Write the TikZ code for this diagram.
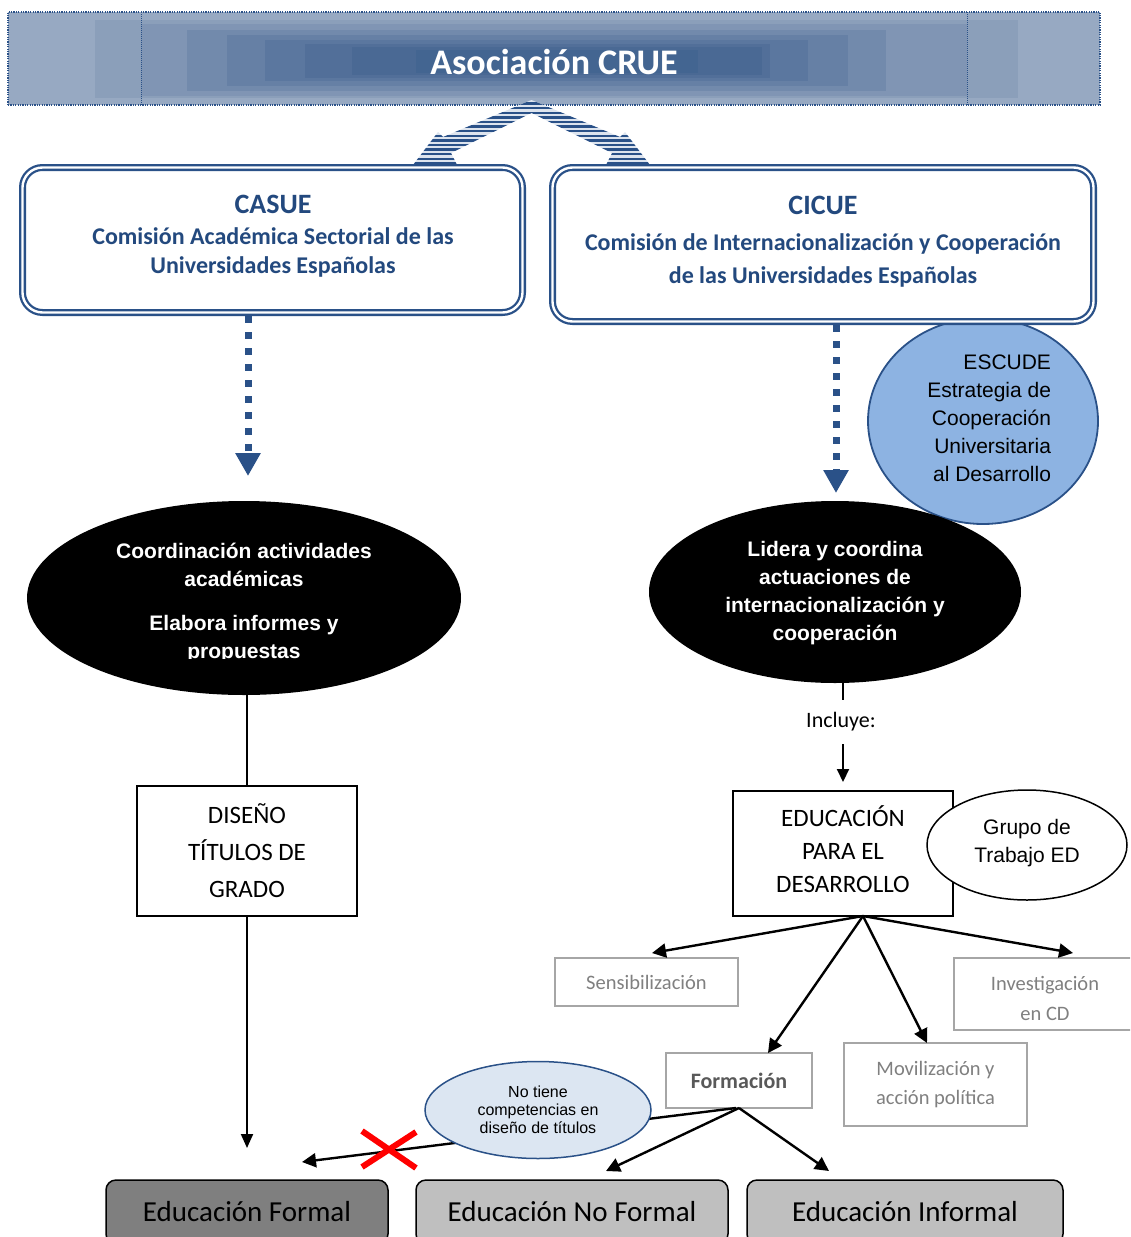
\documentclass[tikz,border=0pt]{standalone}
\usepackage{fontspec}
\setmainfont{Carlito}
\newfontfamily\arialf{Liberation Sans}
\usetikzlibrary{arrows.meta,shapes.geometric,calc}

\definecolor{lineblue}{HTML}{2A5188}
\definecolor{txtblue}{HTML}{23497E}
\definecolor{stripebg}{HTML}{DDE4EE}
\definecolor{escfill}{HTML}{8DB3E2}
\definecolor{notfill}{HTML}{DCE6F2}
\definecolor{boxgray}{HTML}{A6A6A6}
\definecolor{txtgray}{HTML}{808080}
\definecolor{formgray}{HTML}{595959}
\definecolor{darkfill}{HTML}{7F7F7F}
\definecolor{lightfill}{HTML}{BFBFBF}
% banner layers, light outside to dark centre
\definecolor{bA}{HTML}{97A9C2}
\definecolor{bB}{HTML}{8B9FBA}
\definecolor{bC}{HTML}{8095B4}
\definecolor{bD}{HTML}{728AAC}
\definecolor{bE}{HTML}{6680A5}
\definecolor{bF}{HTML}{5B779F}
\definecolor{bG}{HTML}{526F99}
\definecolor{bH}{HTML}{4A6994}
\definecolor{bI}{HTML}{436591}

\tikzset{
  dbox/.style={draw=lineblue, double=white, double distance=2.4pt, line width=2.3pt,
    rounded corners=20pt, fill=white},
  titletxt/.style={text=txtblue, font=\bfseries\fontsize{28}{32}\selectfont},
  subtxt/.style={text=txtblue, font=\bfseries\fontsize{24}{29}\selectfont, align=center},
  dotarrow/.style={draw=lineblue, line width=7pt, dash pattern=on 7pt off 9pt,
    -{Triangle[length=23pt,width=24pt]}},
  blackell/.style={ellipse, fill=black},
  whitetxt/.style={text=white, font=\arialf\bfseries\fontsize{21}{28}\selectfont, align=center},
  plainbox/.style={draw=black, line width=1.5pt, fill=white, align=center,
    font=\fontsize{25}{37}\selectfont},
  graybox/.style={draw=boxgray, line width=1.8pt, fill=white, text=txtgray, align=center,
    font=\fontsize{20.5}{30}\selectfont},
  arr/.style={line width=2.4pt, -{Triangle[length=14pt,width=14pt]}},
  link/.style={line width=2pt},
  bottombox/.style={draw=black, line width=1.5pt, rounded corners=10pt,
    font=\fontsize{29}{34}\selectfont}
}

% outline of the striped split arrow below the banner
\def\splitarrow{(531.5,100) -- (443,137) -- (438,132) -- (413,165) -- (457,165) -- (451,153)
  -- (531.5,113) -- (612,153) -- (606,165) -- (650,165) -- (625,132) -- (620,137) -- cycle}

\begin{document}
\begin{tikzpicture}[x=1pt,y=-1pt, every node/.style={inner sep=0pt,outer sep=0pt}]
\useasboundingbox (0,0) rectangle (1130,1237);
\clip (0,0) rectangle (1130,1237);

% ---- banner with stepped shading ----
\foreach \xa/\ya/\xb/\yb/\c in {8/12/1100/105/bA, 95/20/1018/98/bB, 141/24/967/96/bC,
  187/30/886/91/bD, 227/35/848/86/bE, 265/40/808/81/bF, 305/44/770/78/bG,
  352/47/762/75/bH, 416/50/698/73/bI}
  \fill[\c] (\xa,\ya) rectangle (\xb,\yb);
\draw[lineblue, line width=1pt, dash pattern=on 1pt off 1pt] (141,12) -- (141,105) (967,12) -- (967,105);
\node[draw=lineblue, line width=1.2pt, dash pattern=on 1.2pt off 1.2pt,
  minimum width=1092pt, minimum height=93pt] (crue) at (554,58.5) {};
\node[text=white, font=\bfseries\fontsize{36}{40}\selectfont] (cruetxt) at (554,62) {Asociación CRUE};

% ---- striped split arrow ----
\begin{scope}
  \clip \splitarrow;
  \fill[stripebg] (400,95) rectangle (660,170);
  \foreach \yy in {99,103.6,...,168}
    \draw[lineblue, line width=2.3pt] (400,\yy) -- (660,\yy);
\end{scope}

% ---- ESCUDE ----
\node[ellipse, draw=lineblue, line width=1.8pt, fill=escfill,
  minimum width=230pt, minimum height=206pt] (escude) at (983,421) {};
\node[anchor=east, align=right, font=\arialf\fontsize{21}{28}\selectfont] (escudetxt)
  at (1051,418) {ESCUDE\\Estrategia de\\Cooperación\\Universitaria\\al Desarrollo};

% ---- commission boxes ----
\node[dbox, minimum width=500pt, minimum height=145pt] (casue) at (272.5,240) {};
\node[titletxt] (casuet) at (273,204) {CASUE};
\node[subtxt] (casues) at (273,252.5) {Comisión Académica Sectorial de las\\Universidades Españolas};

\node[dbox, minimum width=541pt, minimum height=154pt] (cicue) at (823,244.5) {};
\node[titletxt] (cicuet) at (823,205) {CICUE};
\node[subtxt, font=\bfseries\fontsize{24}{33}\selectfont] (cicues) at (823,260.5)
  {Comisión de Internacionalización y Cooperación\\de las Universidades Españolas};

% ---- dotted arrows ----
\coordinate (ldt) at (248,476);
\coordinate (rdt) at (836,493);
\draw[dotarrow, shorten <=3.5pt] (casue.south -| ldt) -- (ldt);
\draw[dotarrow, shorten <=3.5pt] (cicue.south -| rdt) -- (rdt);

% ---- black ellipses ----
\node[blackell, minimum width=434pt, minimum height=194pt] (lell) at (244,598) {};
\begin{scope}
  \clip (0,500) rectangle (500,658);
  \node[whitetxt] (lelltxt) at (244,603)
    {Coordinación actividades\\académicas\\[16pt]Elabora informes y\\propuestas};
\end{scope}
\node[blackell, minimum width=372pt, minimum height=182pt] (rell) at (835,592) {};
\node[whitetxt] (relltxt) at (835,593)
  {Lidera y coordina\\actuaciones de\\internacionalización y\\cooperación};

% ---- left branch ----
\node[plainbox, minimum width=220pt, minimum height=130pt] (diseno) at (247,851)
  {DISEÑO\\TÍTULOS DE\\GRADO};
\draw[link] (diseno.north |- lell.south) -- (diseno.north);

% ---- right branch ----
\node[plainbox, minimum width=220pt, minimum height=125pt] (edu) at (843,853.5) {};
\node[align=center, font=\fontsize{25}{33}\selectfont] (edutxt) at (843,849)
  {EDUCACIÓN\\PARA EL\\DESARROLLO};
\node[font=\fontsize{22}{26}\selectfont, inner ysep=13pt] (incl) at (841,722) {Incluye:};
\draw[link] (edu.north |- rell.south) -- (edu.north |- incl.north);
\draw[link, -{Triangle[length=13pt,width=12pt]}, shorten >=9pt] (edu.north |- incl.south) -- (edu.north);
\node[ellipse, draw=black, line width=1.5pt, fill=white, minimum width=200pt, minimum height=110pt]
  (grupo) at (1027,845) {};
\node[align=center, font=\arialf\fontsize{21}{28}\selectfont] (grupotxt) at (1027,843)
  {Grupo de\\Trabajo ED};

% ---- lines of action ----
\node[graybox, minimum width=183pt, minimum height=48pt] (sens) at (646.5,982) {Sensibilización};
\node[graybox, minimum width=186pt, minimum height=72pt] (inv) at (1047,994) {};
\node[align=center, text=txtgray, font=\fontsize{20.5}{30}\selectfont] (invtxt) at (1045,998)
  {Investigación\\en CD};
\node[graybox, minimum width=146pt, minimum height=55pt, text=formgray,
  font=\bfseries\fontsize{22}{26}\selectfont] (form) at (739,1080.5) {Formación};
\node[graybox, minimum width=183pt, minimum height=83pt, font=\fontsize{20.5}{29}\selectfont]
  (mov) at (935.5,1084.5) {Movilización y\\acción política};

\draw[arr] ([xshift=20pt]edu.south) -- ([xshift=5.5pt,yshift=5pt]sens.north);
\draw[arr] ([xshift=20pt]edu.south) -- ([xshift=26pt,yshift=5pt]inv.north);
\draw[arr] ([xshift=20pt]edu.south) -- ([xshift=29pt]form.north);
\draw[arr] ([xshift=20pt]edu.south) -- ([xshift=-8.5pt]mov.north);

% ---- kinds of education ----
\node[bottombox, fill=darkfill, minimum width=282pt, minimum height=64pt] (formal) at (247,1212) {Educación Formal};
\node[bottombox, fill=lightfill, minimum width=312pt, minimum height=64pt] (nof) at (572,1212) {Educación No Formal};
\node[bottombox, fill=lightfill, minimum width=316pt, minimum height=64pt] (inf) at (905,1212) {Educación Informal};

\draw[link, -{Triangle[length=14pt,width=12pt]}] (diseno.south) -- ([yshift=32pt]formal.north);
\draw[arr] (form.south) -- ([xshift=34pt,yshift=9pt]nof.north);
\draw[arr] (form.south) -- ([xshift=-76pt,yshift=9pt]inf.north);
\draw[arr] ([xshift=-3pt]form.south) -- ([xshift=55pt,yshift=18pt]formal.north);

\node[ellipse, draw=lineblue, line width=1.5pt, fill=notfill, minimum width=226pt, minimum height=97pt,
  align=center, font=\arialf\fontsize{16}{18}\selectfont] (notiene) at (538,1110)
  {No tiene\\competencias en\\diseño de títulos};

% cross over the blocked link
\draw[red, line width=6pt] (362,1131) -- (416,1168) (416,1132) -- (362,1167);
\end{tikzpicture}
\end{document}
